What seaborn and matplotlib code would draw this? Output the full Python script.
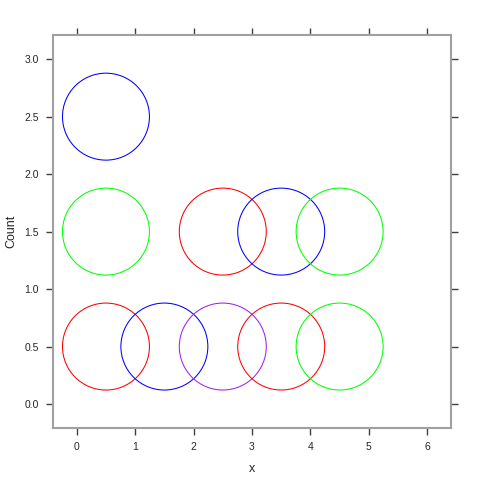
import matplotlib
matplotlib.use("Agg")
import matplotlib.pyplot as plt
import seaborn as sns
import pandas as pd

# circle centres and colours
x_vals = [0.5, 0.5, 2.5, 3.5, 4.5, 0.5, 1.5, 2.5, 3.5, 4.5]
counts = [2.5, 1.5, 1.5, 1.5, 1.5, 0.5, 0.5, 0.5, 0.5, 0.5]
colours = ["#0000FF", "#00FF00", "#FF0000", "#0000FF", "#00FF00",
           "#FF0000", "#0000FF", "#A020F0", "#FF0000", "#00FF00"]
x_ticks = [0, 1, 2, 3, 4, 5, 6]
y_ticks = [0.0, 0.5, 1.0, 1.5, 2.0, 2.5, 3.0]

sns.set_style("white")
plt.rcParams["font.family"] = ["Liberation Sans", "DejaVu Sans"]

ds = pd.DataFrame({"x": x_vals, "Count": counts, "col": colours})

fig = plt.figure(figsize=(4.8, 4.8), dpi=100)
ax = fig.add_axes([0.110, 0.108, 0.830, 0.819])

sns.scatterplot(data=ds, x="x", y="Count", ax=ax, s=3920, marker="o",
                facecolors="none", edgecolor=ds["col"], linewidth=0.75,
                legend=False)

ax.set_xlim(-0.41, 6.41)
ax.set_ylim(-0.21, 3.21)
ax.set_xticks(x_ticks)
ax.set_yticks(y_ticks)
ax.set_yticklabels([f"{v:.1f}" for v in y_ticks])

for s in ax.spines.values():
    s.set_color("#a0a0a0")
    s.set_linewidth(1.5)
ax.tick_params(axis="both", which="both", direction="out", length=5,
               width=1, color="#404040", labelsize=7.5,
               top=True, right=True, bottom=True, left=True,
               labeltop=False, labelright=False, pad=5)
ax.set_xlabel("x", fontsize=9, labelpad=8)
ax.set_ylabel("Count", fontsize=9, labelpad=5)

fig.savefig("out.png", dpi=100)
